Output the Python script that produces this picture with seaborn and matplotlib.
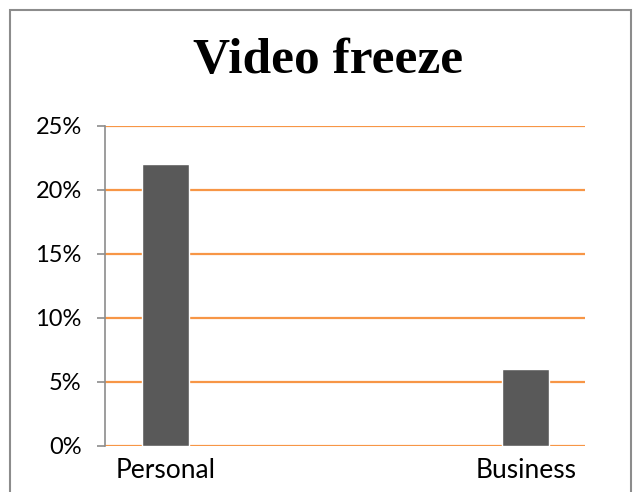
import matplotlib
matplotlib.use("Agg")
import matplotlib.pyplot as plt
import seaborn as sns
import pandas as pd
from matplotlib.patches import Rectangle
from matplotlib.ticker import PercentFormatter

categories = ["Personal", "Business"]
values = [0.22, 0.06]
y_ticks = [0.0, 0.05, 0.10, 0.15, 0.20, 0.25]

df = pd.DataFrame({"category": categories, "share": values})

sns.set_theme(style="white")
plt.rcParams["font.family"] = ["Lato", "DejaVu Sans"]

fig = plt.figure(figsize=(6.33, 4.92), dpi=100)
ax = fig.add_axes([105 / 633, 1 - 446 / 492, 480 / 633, 320 / 492])

sns.barplot(data=df, x="category", y="share", color="#595959", saturation=1,
            width=0.13, ax=ax, zorder=3)

ax.set_ylim(0, 0.25)
ax.set_xlim(-0.168, 1.164)
ax.set_yticks(y_ticks)
ax.yaxis.set_major_formatter(PercentFormatter(1.0, decimals=0))
ax.set_xlabel("")
ax.set_ylabel("")

for y in y_ticks:
    ax.axhline(y, color="#F79646", lw=1.6, zorder=1)

for side in ["top", "right", "bottom"]:
    ax.spines[side].set_visible(False)
ax.spines["left"].set_color("#8C8C8C")
ax.spines["left"].set_linewidth(1.2)
ax.spines["left"].set_zorder(2)

ax.tick_params(axis="y", which="major", left=True, length=5.8, width=1.2,
               color="#8C8C8C", labelsize=17, labelcolor="black", pad=11)
ax.tick_params(axis="x", bottom=False, labelsize=19, labelcolor="black", pad=3)

fig.text(0.519, 1 - 61 / 492, "Video freeze", ha="center", va="center", color="black",
         fontsize=37, fontweight="bold", family=["Liberation Serif", "DejaVu Serif"])

fig.patches.append(Rectangle((10 / 633, -0.05), (631 - 10) / 633, (1 - 10 / 492) + 0.05,
                             transform=fig.transFigure, fill=False,
                             edgecolor="#8C8C8C", lw=1.5))

fig.savefig("out.png", dpi=100)
